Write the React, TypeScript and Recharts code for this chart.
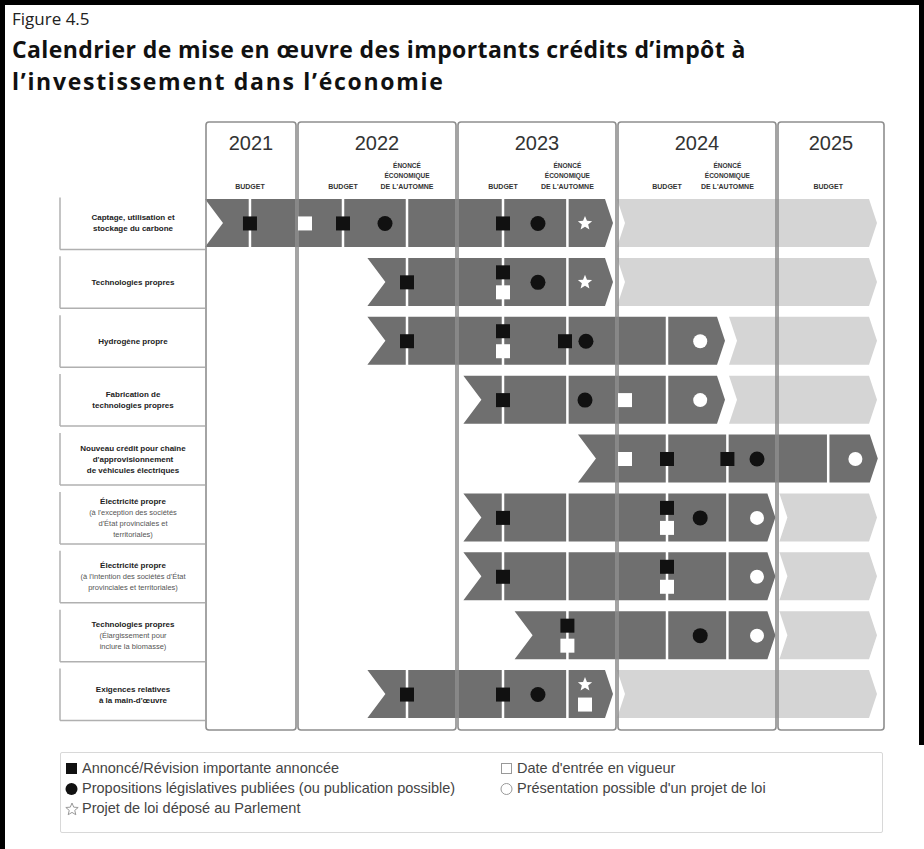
import React from 'react';
import { ComposedChart, Bar, Scatter, XAxis, YAxis, ReferenceLine, ReferenceArea } from 'recharts';

// rows, top to bottom
const rowNames = ['captage', 'tech', 'hydro', 'fab', 've', 'elecA', 'elecB', 'bio', 'mo'];
const rowBold = [
  ['Captage, utilisation et', 'stockage du carbone'],
  ['Technologies propres'],
  ['Hydrogène propre'],
  ['Fabrication de', 'technologies propres'],
  ['Nouveau crédit pour chaîne', "d'approvisionnement", 'de véhicules électriques'],
  ['Électricité propre'],
  ['Électricité propre'],
  ['Technologies propres'],
  ['Exigences relatives', "à la main-d'œuvre"],
];
const rowNormal = [
  [],
  [],
  [],
  [],
  [],
  ["(à l'exception des sociétés", "d'État provinciales et", 'territoriales)'],
  ["(à l'intention des sociétés d'État", 'provinciales et territoriales)'],
  ['(Élargissement pour', 'inclure la biomasse)'],
  [],
];

// time spans in years (dark = en cours, light = à venir)
const darkSpans: [number, number][] = [
  [2021.425, 2023.975],
  [2022.44, 2023.975],
  [2022.44, 2024.675],
  [2023.04, 2024.675],
  [2023.756, 2025.63],
  [2023.04, 2024.99],
  [2023.04, 2024.99],
  [2023.36, 2024.99],
  [2022.44, 2023.975],
];
const lightSpans: ([number, number] | null)[] = [
  [2024.0, 2025.625],
  [2024.0, 2025.625],
  [2024.7, 2025.625],
  [2024.7, 2025.625],
  null,
  [2025.015, 2025.625],
  [2025.015, 2025.625],
  [2025.015, 2025.625],
  [2024.0, 2025.625],
];

const yearLabels = ['2021', '2022', '2023', '2024', '2025'];
const yearStarts = [2021.425, 2022, 2023, 2024, 2025];
const yearEnds = [2022, 2023, 2024, 2025, 2025.675];

const eventTimes = [2021.706, 2022.2875, 2022.6875, 2023.2875, 2023.69, 2024.3125, 2024.69, 2025.32];
const eventKinds = ['budget', 'budget', 'fes', 'budget', 'fes', 'budget', 'fes', 'budget'];

// markers: [row index, time]
const announced: [number, number][] = [
  [0, 2021.706], [0, 2022.2875], [0, 2023.2875],
  [1, 2022.6875], [1, 2023.2875],
  [2, 2022.6875], [2, 2023.2875], [2, 2023.675],
  [3, 2023.2875],
  [4, 2024.3125], [4, 2024.69],
  [5, 2023.2875], [5, 2024.3125],
  [6, 2023.2875], [6, 2024.3125],
  [7, 2023.69],
  [8, 2022.6875], [8, 2023.2875],
];
const effective: [number, number][] = [
  [0, 2022.05],
  [1, 2023.2875],
  [2, 2023.2875],
  [3, 2024.05],
  [4, 2024.05],
  [5, 2024.3125],
  [6, 2024.3125],
  [7, 2023.69],
  [8, 2023.8],
];
const proposals: [number, number][] = [
  [0, 2022.55], [0, 2023.506],
  [1, 2023.506],
  [2, 2023.806],
  [3, 2023.8],
  [4, 2024.875],
  [5, 2024.52],
  [7, 2024.52],
  [8, 2023.506],
];
const possibleBills: [number, number][] = [
  [2, 2024.52],
  [3, 2024.52],
  [4, 2025.49],
  [5, 2024.875],
  [6, 2024.875],
  [7, 2024.875],
];
const billsTabled: [number, number][] = [
  [0, 2023.8],
  [1, 2023.8],
  [8, 2023.8],
];

const DARK = '#6f6f6f';
const LIGHT = '#d5d5d5';
const BOX = '#8e8e8e';

const rows = rowNames.map((name, i) => ({ name, dark: darkSpans[i], light: lightSpans[i] }));

const markerGroups: [string, [number, number][]][] = [
  ['announced', announced],
  ['effective', effective],
  ['proposal', proposals],
  ['possible', possibleBills],
  ['tabled', billsTabled],
];
const markers = markerGroups.flatMap(([kind, list]) =>
  list.map(([r, t]) => ({ name: rowNames[r], row: r, t, kind }))
);
// two marks on the same date in one row are stacked
const stacked = (m: any) =>
  markers.some((o) => o !== m && o.row === m.row && Math.abs(o.t - m.t) < 0.001);

const chevron = (notch: number, tip: number, color: string) => (props: any) => {
  const { x, y, width, height } = props;
  if (!width || width <= 0) return null;
  const d = [
    `M${x},${y}`,
    `L${x + width - tip},${y}`,
    `L${x + width},${y + height / 2}`,
    `L${x + width - tip},${y + height}`,
    `L${x},${y + height}`,
    `L${x + notch},${y + height / 2}`,
    'Z',
  ].join(' ');
  return <path d={d} fill={color} />;
};

const starPath = (cx: number, cy: number, R: number, r: number) => {
  const pts: string[] = [];
  for (let k = 0; k < 10; k++) {
    const a = -Math.PI / 2 + (k * Math.PI) / 5;
    const rad = k % 2 === 0 ? R : r;
    pts.push(`${cx + rad * Math.cos(a)},${cy + rad * Math.sin(a)}`);
  }
  return 'M' + pts.join(' L') + ' Z';
};

const MarkerShape = (props: any) => {
  const { cx, payload } = props;
  let cy = props.cy;
  if (cx == null || cy == null) return null;
  if (stacked(payload)) cy += payload.kind === 'effective' ? 10 : -10;
  switch (payload.kind) {
    case 'announced':
      return <rect x={cx - 7} y={cy - 7} width={14} height={14} fill="#111" />;
    case 'effective':
      return <rect x={cx - 7} y={cy - 7} width={14} height={14} fill="#fff" />;
    case 'proposal':
      return <circle cx={cx} cy={cy} r={7.5} fill="#111" />;
    case 'possible':
      return <circle cx={cx} cy={cy} r={7} fill="#fff" />;
    default:
      return <path d={starPath(cx, cy, 7.5, 3.3)} fill="#fff" />;
  }
};

const RowTick = (props: any) => {
  const { x, y, payload } = props;
  const i = rowNames.indexOf(payload.value);
  const left = x - 145;
  const lines = [
    ...rowBold[i].map((s) => ({ s, b: true })),
    ...rowNormal[i].map((s) => ({ s, b: false })),
  ];
  const lh = 11;
  const top = y - ((lines.length - 1) * lh) / 2;
  return (
    <g>
      <line x1={left} y1={y - 26} x2={left} y2={y + 26} stroke="#b0b0b0" strokeWidth={1.5} />
      <line x1={left} y1={y + 26} x2={x} y2={y + 26} stroke="#b0b0b0" strokeWidth={1.5} />
      {lines.map((l, k) => (
        <text
          key={k}
          x={left + 73}
          y={top + k * lh}
          textAnchor="middle"
          dominantBaseline="central"
          fontFamily="'Liberation Sans', Arial, sans-serif"
          fontSize={l.b ? 8 : 7.5}
          fontWeight={l.b ? 700 : 400}
          fill={l.b ? '#222' : '#555'}
        >
          {l.s}
        </text>
      ))}
    </g>
  );
};

const YearBox = (props: any) => {
  const { x, y, width, height, label } = props;
  return (
    <g>
      <rect x={x + 1} y={y - 72} width={width - 2} height={height + 78} rx={3} fill="none" stroke={BOX} strokeWidth={1.6} />
      <text
        x={x + width / 2}
        y={y - 51}
        textAnchor="middle"
        dominantBaseline="central"
        fontFamily="'Liberation Sans', Arial, sans-serif"
        fontSize={20}
        fill="#333"
      >
        {label}
      </text>
    </g>
  );
};

const eventLabel = (kind: string) => (props: any) => {
  const vb = props.viewBox || {};
  const x = vb.x;
  const y = vb.y;
  const lines = kind === 'budget' ? ['BUDGET'] : ['ÉNONCÉ', 'ÉCONOMIQUE', "DE L'AUTOMNE"];
  return (
    <g>
      {lines.map((s, k) => (
        <text
          key={k}
          x={x}
          y={y - 8 - (lines.length - 1 - k) * 10.5}
          textAnchor="middle"
          dominantBaseline="central"
          fontFamily="'Liberation Sans', Arial, sans-serif"
          fontSize={k === lines.length - 1 ? 7 : 6.5}
          fontWeight={700}
          fill="#333"
        >
          {s}
        </text>
      ))}
    </g>
  );
};

const legendText: React.CSSProperties = {
  fontFamily: "'Liberation Sans', Arial, sans-serif",
  fontSize: 14.5,
  color: '#444',
  position: 'absolute',
  whiteSpace: 'nowrap',
  lineHeight: '17px',
};

const LegendIcon = ({ kind }: { kind: string }) => (
  <svg width={14} height={14} style={{ position: 'absolute', left: -17, top: 1.5 }}>
    {kind === 'announced' && <rect x={1} y={1} width={11} height={11} fill="#111" />}
    {kind === 'effective' && <rect x={1.5} y={1.5} width={10} height={10} fill="#fff" stroke="#999" />}
    {kind === 'proposal' && <circle cx={6.5} cy={7} r={6} fill="#111" />}
    {kind === 'possible' && <circle cx={6.5} cy={7} r={5.5} fill="#fff" stroke="#999" />}
    {kind === 'tabled' && <path d={starPath(7, 7.5, 6.5, 2.9)} fill="#fff" stroke="#999" />}
  </svg>
);

const legendItems = [
  { kind: 'announced', text: 'Annoncé/Révision importante annoncée', left: 82, top: 760 },
  { kind: 'proposal', text: 'Propositions législatives publiées (ou publication possible)', left: 82, top: 780 },
  { kind: 'tabled', text: 'Projet de loi déposé au Parlement', left: 82, top: 800 },
  { kind: 'effective', text: "Date d'entrée en vigueur", left: 517, top: 760 },
  { kind: 'possible', text: "Présentation possible d'un projet de loi", left: 517, top: 780 },
];

const titleStyle: React.CSSProperties = {
  position: 'absolute',
  left: 12,
  fontFamily: "'Open Sans', sans-serif",
  fontWeight: 700,
  fontSize: 23,
  lineHeight: '32px',
  height: 32,
  color: '#111',
  whiteSpace: 'nowrap',
};

export default function App() {
  return (
    <div style={{ position: 'absolute', left: 0, top: 0, width: 924, height: 849, background: '#fff', overflow: 'hidden' }}>
      <div style={{ position: 'absolute', left: 0, top: 0, width: 924, height: 5, background: '#000' }} />
      <div style={{ position: 'absolute', left: 0, top: 0, width: 5, height: 849, background: '#000' }} />
      <div style={{ position: 'absolute', left: 919, top: 0, width: 5, height: 745, background: '#000' }} />
      <div style={{ position: 'absolute', left: 12, top: 7, fontFamily: "'Open Sans', sans-serif", fontSize: 17, color: '#222' }}>
        Figure 4.5
      </div>
      <div style={{ ...titleStyle, top: 33, letterSpacing: 0.4 }}>
        Calendrier de mise en œuvre des importants crédits d’impôt à
      </div>
      <div style={{ ...titleStyle, top: 65, letterSpacing: 1.7 }}>l’investissement dans l’économie</div>

      <div style={{ position: 'absolute', left: 0, top: 0 }}>
        <ComposedChart
          layout="vertical"
          width={924}
          height={849}
          data={rows}
          margin={{ top: 194, right: 39, bottom: 125, left: 60 }}
          barGap={-48}
          barSize={48}
        >
          <XAxis type="number" domain={[2021.425, 2025.675]} allowDataOverflow hide />
          <YAxis
            type="category"
            dataKey="name"
            width={145}
            axisLine={false}
            tickLine={false}
            tickSize={0}
            tickMargin={0}
            interval={0}
            allowDuplicatedCategory={false}
            tick={<RowTick />}
          />
          <Bar dataKey="dark" shape={chevron(18, 8, DARK)} isAnimationActive={false} zIndex={300} />
          {eventTimes.map((t, i) => (
            <ReferenceLine
              key={`ev-${i}`}
              x={t}
              stroke="#ffffff"
              strokeWidth={2.5}
              label={eventLabel(eventKinds[i])}
              zIndex={310}
            />
          ))}
          <Bar dataKey="light" shape={chevron(8, 8, LIGHT)} isAnimationActive={false} zIndex={320} />
          {yearLabels.map((label, i) => (
            <ReferenceArea
              key={`yr-${label}`}
              x1={yearStarts[i]}
              x2={yearEnds[i]}
              ifOverflow="visible"
              shape={(p: any) => <YearBox {...p} label={label} />}
              zIndex={330}
            />
          ))}
          <Scatter data={markers} dataKey="t" shape={MarkerShape} isAnimationActive={false} zIndex={600} />
        </ComposedChart>
      </div>

      <div
        style={{
          position: 'absolute',
          left: 60,
          top: 752,
          width: 823,
          height: 81,
          border: '1.5px solid #d8d8d8',
          borderRadius: 2,
          boxSizing: 'border-box',
        }}
      />
      {legendItems.map((it) => (
        <div key={it.text} style={{ ...legendText, left: it.left, top: it.top }}>
          <LegendIcon kind={it.kind} />
          {it.text}
        </div>
      ))}
    </div>
  );
}
